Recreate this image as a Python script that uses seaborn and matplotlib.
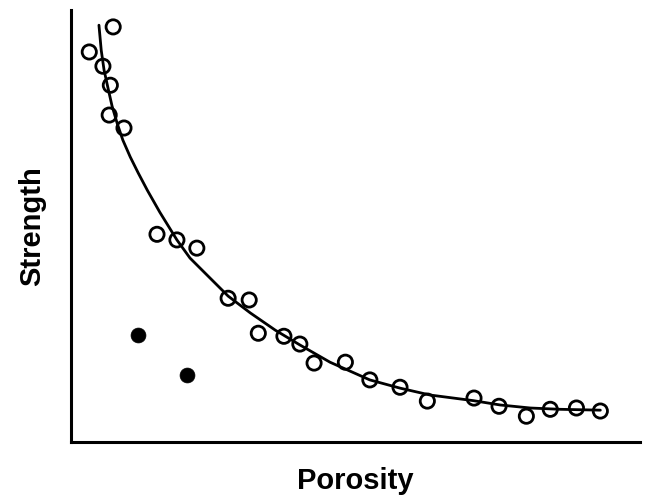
import numpy as np
import pandas as pd
import matplotlib
matplotlib.use("Agg")
import matplotlib.pyplot as plt
import seaborn as sns

# open circles (arbitrary 0-100 units)
porosity_open = [3.2, 7.4, 5.6, 6.9, 6.7, 9.3, 15.1, 18.6, 22.1, 27.6, 31.3, 32.9, 37.4,
                 40.2, 42.7, 48.2, 52.5, 57.8, 62.6, 70.8, 75.2, 80.0, 84.2, 88.8, 93.0]
strength_open = [90.3, 96.1, 87.0, 82.6, 75.7, 72.7, 48.1, 46.8, 44.9, 33.3, 32.9, 25.2, 24.5,
                 22.7, 18.3, 18.5, 14.4, 12.7, 9.5, 10.2, 8.3, 6.0, 7.6, 7.9, 7.2]

# filled circles
porosity_filled = [11.8, 20.4]
strength_filled = [24.8, 15.5]

# fitted trend curve
curve_porosity = [4.9, 5.3, 5.8, 6.5, 7.2, 8.1, 9.1, 10.4, 11.8, 13.4, 15.6, 18.6, 20.9,
                  24.4, 27.6, 31.5, 35.9, 40.2, 45.5, 52.5, 57.8, 63.1, 70.7, 75.4, 80.7,
                  85.9, 93.0]
curve_strength = [96.5, 90.7, 86.1, 81.9, 77.8, 73.8, 69.9, 66.0, 62.3, 58.3, 53.2, 46.8, 42.6,
                  38.0, 33.8, 29.9, 25.9, 22.5, 18.5, 14.4, 12.5, 10.9, 9.6, 8.6, 7.9,
                  7.6, 7.4]

sns.set_style("white")
plt.rcParams['font.family'] = ['Liberation Sans', 'DejaVu Sans']

fig = plt.figure(figsize=(6.46, 5.03), dpi=100)
ax = fig.add_axes([0.11, 0.121, 0.881, 0.859])

curve = pd.DataFrame({'Porosity': curve_porosity, 'Strength': curve_strength})
sns.lineplot(data=curve, x='Porosity', y='Strength', color='black', linewidth=2.0,
             sort=False, ax=ax, zorder=4)

sns.scatterplot(x=porosity_open, y=strength_open, ax=ax, s=105, marker='o',
                facecolor='none', edgecolor='black', linewidth=2.0, zorder=3)
sns.scatterplot(x=porosity_filled, y=strength_filled, ax=ax, s=115, marker='o',
                color='black', edgecolor='black', linewidth=0.5, zorder=3)

ax.set_xlim(0, 100)
ax.set_ylim(0, 100)
ax.set_xticks([])
ax.set_yticks([])
sns.despine(ax=ax)
for side in ['left', 'bottom']:
    ax.spines[side].set_color('black')
    ax.spines[side].set_linewidth(2.2)

ax.set_xlabel('Porosity', fontsize=21, fontweight='bold', labelpad=18, color='black')
ax.set_ylabel('Strength', fontsize=21, fontweight='bold', labelpad=18, color='black')

plt.savefig('out.png', dpi=100)
